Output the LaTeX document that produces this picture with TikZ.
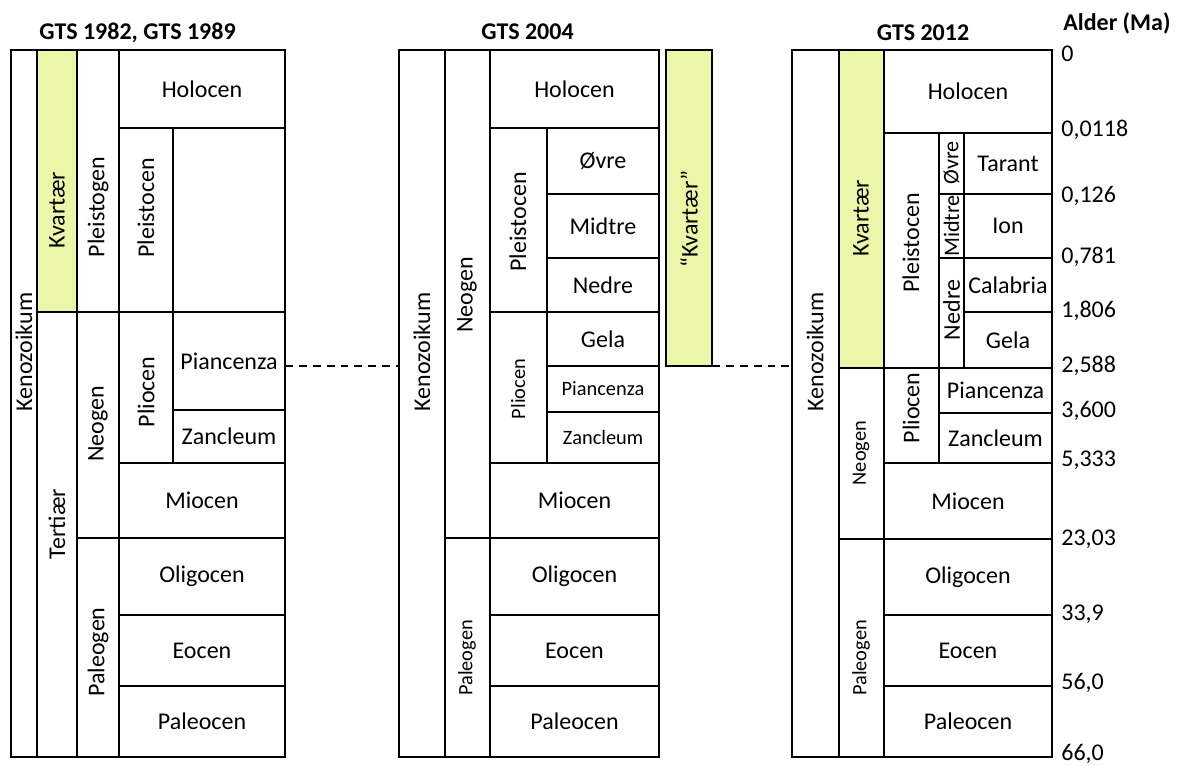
\documentclass[tikz,border=0pt]{standalone}
\usepackage{fontspec}
\setmainfont{Carlito}
\usepackage{tikz}
\usetikzlibrary{positioning, fit}

\definecolor{kvfill}{RGB}{235,246,168}
\newcommand\lblfont{\fontsize{13.66}{16}\selectfont}
\newcommand\slblfont{\fontsize{11.6}{14}\selectfont}

\begin{document}
\begin{tikzpicture}[
    x=0.02cm, y=-0.02cm,
    % Node Styles
    cell/.style={rectangle, draw=black, line width=0.75pt, inner sep=0pt, outer sep=0pt},
    kvcell/.style={cell, fill=kvfill},
    htext/.style={inner sep=0pt, font=\lblfont},
    shtext/.style={htext, font=\slblfont},
    vtext/.style={rotate=90, inner sep=0pt, font=\lblfont},
    svtext/.style={vtext, font=\slblfont},
    title/.style={anchor=base, inner sep=0pt, font=\lblfont\bfseries},
    age/.style={anchor=west, inner sep=0pt, font=\lblfont},
    dashline/.style={draw=black, line width=0.75pt, dash pattern=on 4.5pt off 3.4pt}
]
\useasboundingbox (0,0) rectangle (1181,765);

% --- 1. Titles ---
\node[title] (titleL) at (137.5,39) {GTS 1982, GTS 1989};
\node[title] (titleM) at (527.5,39) {GTS 2004};
\node[title] (titleR) at (923,40) {GTS 2012};
\node[title, anchor=base west] (titleAge) at (1063,30) {Alder (Ma)};

% --- 2. GTS 1982, GTS 1989 ---
\node[cell, fit={(11,50) (37,757)}] (kenL) {};
\node[kvcell, fit={(37,50) (77,312)}] (kvL) {};
\node[cell, fit={(37,312) (77,757)}] (terL) {};
\node[cell, fit={(77,50) (119,312)}] (pgL) {};
\node[cell, fit={(77,312) (119,538)}] (neoL) {};
\node[cell, fit={(77,538) (119,757)}] (paleoL) {};
\node[cell, fit={(119,50) (285,128)}] (holL) {};
\node[cell, fit={(119,128) (173,312)}] (pleiL) {};
\node[cell, fit={(173,128) (285,312)}] (restL) {};
\node[cell, fit={(119,312) (173,463)}] (plioL) {};
\node[cell, fit={(173,312) (285,410)}] (piaL) {};
\node[cell, fit={(173,410) (285,463)}] (zanL) {};
\node[cell, fit={(119,463) (285,538)}] (mioL) {};
\node[cell, fit={(119,538) (285,615)}] (oliL) {};
\node[cell, fit={(119,615) (285,686)}] (eoL) {};
\node[cell, fit={(119,686) (285,757)}] (paL) {};

\node[htext] (holLt) at (holL) {Holocen};
\node[htext] (piaLt) at (piaL) {Piancenza};
\node[htext] (zanLt) at (zanL) {Zancleum};
\node[htext] (mioLt) at (mioL) {Miocen};
\node[htext] (oliLt) at (oliL) {Oligocen};
\node[htext] (eoLt) at (eoL) {Eocen};
\node[htext] (paLt) at (paL) {Paleocen};
\node[vtext] (kenLt) at (24,352) {Kenozoikum};
\node[vtext] (kvLt) at (57,210) {Kvartær};
\node[vtext] (terLt) at (57,524) {Tertiær};
\node[vtext] (pgLt) at (98,207) {Pleistogen};
\node[vtext] (neoLt) at (98,424) {Neogen};
\node[vtext] (paleoLt) at (98,652) {Paleogen};
\node[vtext] (pleiLt) at (146,208) {Pleistocen};
\node[vtext] (plioLt) at (146,392) {Pliocen};

% --- 3. GTS 2004 ---
\node[cell, fit={(399,50) (445,757)}] (kenM) {};
\node[cell, fit={(445,50) (490,538)}] (neoM) {};
\node[cell, fit={(445,538) (490,757)}] (paleoM) {};
\node[cell, fit={(490,50) (659,128)}] (holM) {};
\node[cell, fit={(490,128) (547,312)}] (pleiM) {};
\node[cell, fit={(547,128) (659,194)}] (ovM) {};
\node[cell, fit={(547,194) (659,258)}] (midM) {};
\node[cell, fit={(547,258) (659,312)}] (nedM) {};
\node[cell, fit={(490,312) (547,463)}] (plioM) {};
\node[cell, fit={(547,312) (659,366)}] (gelaM) {};
\node[cell, fit={(547,366) (659,412)}] (piaM) {};
\node[cell, fit={(547,412) (659,463)}] (zanM) {};
\node[cell, fit={(490,463) (659,538)}] (mioM) {};
\node[cell, fit={(490,538) (659,615)}] (oliM) {};
\node[cell, fit={(490,615) (659,686)}] (eoM) {};
\node[cell, fit={(490,686) (659,757)}] (paM) {};
\node[kvcell, fit={(666,50) (712,366)}] (kvM) {};

\node[htext] (holMt) at (holM) {Holocen};
\node[htext] (ovMt) at (ovM) {Øvre};
\node[htext] (midMt) at (midM) {Midtre};
\node[htext] (nedMt) at (nedM) {Nedre};
\node[htext] (gelaMt) at (gelaM) {Gela};
\node[shtext] (piaMt) at (piaM) {Piancenza};
\node[shtext] (zanMt) at (zanM) {Zancleum};
\node[htext] (mioMt) at (mioM) {Miocen};
\node[htext] (oliMt) at (oliM) {Oligocen};
\node[htext] (eoMt) at (eoM) {Eocen};
\node[htext] (paMt) at (paM) {Paleocen};
\node[vtext] (kenMt) at (422,352) {Kenozoikum};
\node[vtext] (neoMt) at (467,295) {Neogen};
\node[svtext] (paleoMt) at (467,658) {Paleogen};
\node[vtext] (pleiMt) at (518,222) {Pleistocen};
\node[svtext] (plioMt) at (518,389) {Pliocen};
\node[vtext] (kvMt) at (689,219) {“Kvartær”};

% --- 4. GTS 2012 ---
\node[cell, fit={(792,50) (839,757)}] (kenR) {};
\node[kvcell, fit={(839,50) (884,368)}] (kvR) {};
\node[cell, fit={(839,368) (884,539)}] (neoR) {};
\node[cell, fit={(839,539) (884,757)}] (paleoR) {};
\node[cell, fit={(884,50) (1052,133)}] (holR) {};
\node[cell, fit={(884,133) (939,368)}] (pleiR) {};
\node[cell, fit={(939,133) (964,194)}] (ovR) {};
\node[cell, fit={(964,133) (1052,194)}] (tarR) {};
\node[cell, fit={(939,194) (964,258)}] (midR) {};
\node[cell, fit={(964,194) (1052,258)}] (ionR) {};
\node[cell, fit={(939,258) (964,368)}] (nedR) {};
\node[cell, fit={(964,258) (1052,312)}] (calR) {};
\node[cell, fit={(964,312) (1052,368)}] (gelaR) {};
\node[cell, fit={(884,368) (939,463)}] (plioR) {};
\node[cell, fit={(939,368) (1052,413)}] (piaR) {};
\node[cell, fit={(939,413) (1052,463)}] (zanR) {};
\node[cell, fit={(884,463) (1052,539)}] (mioR) {};
\node[cell, fit={(884,539) (1052,615)}] (oliR) {};
\node[cell, fit={(884,615) (1052,686)}] (eoR) {};
\node[cell, fit={(884,686) (1052,757)}] (paR) {};

\node[htext] (holRt) at (holR) {Holocen};
\node[htext] (tarRt) at (tarR) {Tarant};
\node[htext] (ionRt) at (ionR) {Ion};
\node[htext] (calRt) at (calR) {Calabria};
\node[htext] (gelaRt) at (gelaR) {Gela};
\node[htext] (piaRt) at (piaR) {Piancenza};
\node[htext] (zanRt) at (zanR) {Zancleum};
\node[htext] (mioRt) at (mioR) {Miocen};
\node[htext] (oliRt) at (oliR) {Oligocen};
\node[htext] (eoRt) at (eoR) {Eocen};
\node[htext] (paRt) at (paR) {Paleocen};
\node[vtext] (kenRt) at (815,352) {Kenozoikum};
\node[vtext] (kvRt) at (861,218) {Kvartær};
\node[svtext] (neoRt) at (861,453) {Neogen};
\node[svtext] (paleoRt) at (861,658) {Paleogen};
\node[vtext] (pleiRt) at (911,243) {Pleistocen};
\node[vtext] (plioRt) at (911,408) {Pliocen};
\node[vtext, font=\fontsize{12.6}{14}\selectfont] (ovRt) at (951.5,163) {Øvre};
\node[vtext, font=\fontsize{12.6}{14}\selectfont] (midRt) at (951.5,226) {Midtre};
\node[vtext] (nedRt) at (951.5,310) {Nedre};

% --- 5. Ages ---
\node[age] (age0) at (1061,54) {0};
\node[age] (age1) at (1061,130) {0,0118};
\node[age] (age2) at (1061,196) {0,126};
\node[age] (age3) at (1061,257) {0,781};
\node[age] (age4) at (1061,311) {1,806};
\node[age] (age5) at (1061,366) {2,588};
\node[age] (age6) at (1061,411) {3,600};
\node[age] (age7) at (1061,460) {5,333};
\node[age] (age8) at (1061,539) {23,03};
\node[age] (age9) at (1061,614) {33,9};
\node[age] (age10) at (1061,683) {56,0};
\node[age] (age11) at (1061,754) {66,0};

% --- Dashed links ---
\draw[dashline] (piaL.east |- kvM.south) -- (kenM.west |- kvM.south);
\draw[dashline] (kvM.south east) -- (kenR.west |- kvM.south);

\end{tikzpicture}
\end{document}
